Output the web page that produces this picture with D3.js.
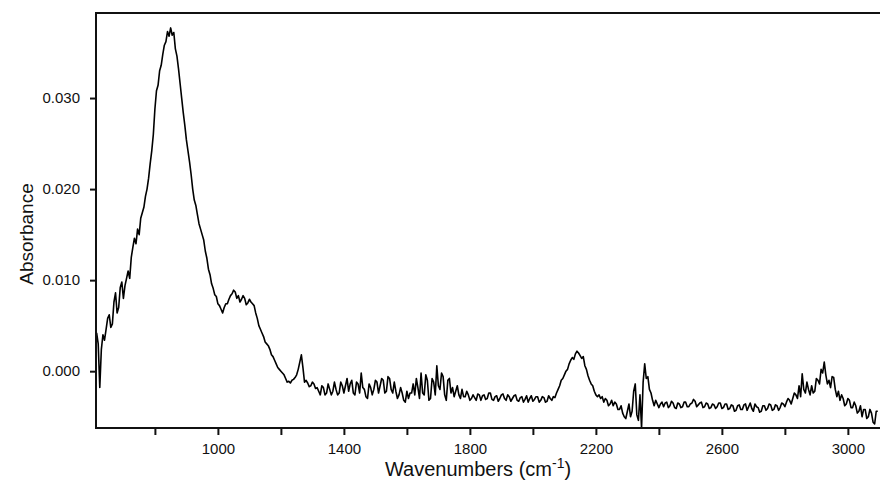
<!DOCTYPE html>
<html lang="en">
<head>
<meta charset="UTF-8">
<title>Absorbance spectrum</title>
<style>
    body { margin: 0; background: #fff; }
    svg { display: block; }
    text { font-family: Arial, "Liberation Sans", sans-serif; fill: #111; }
</style>
</head>
<body>
<svg width="880" height="482"></svg>

<script src="https://d3js.org/d3.v7.min.js"></script>
<script>

    // spectrum sampled every 5 cm-1, starting at 615 cm-1 (absorbance x 1000)
    const wnStart = 615
    const wnStep = 5
    const absorbanceMilli = [
        4.2, 3.0, -1.8, 2.4, 4.0, 3.4, 4.6, 5.8, 6.2, 4.8, 5.2, 7.6, 8.6, 6.4, 7.0, 9.2, 9.8, 8.0, 9.4, 10.2,                // 615-710
        11.0, 10.2, 12.5, 13.6, 14.6, 14.0, 15.6, 15.0, 16.8, 17.4, 18.0, 19.2, 20.0, 21.2, 22.8, 24.2, 26.0, 28.8, 30.8, 31.4, // 715-810
        33.0, 33.6, 34.8, 35.8, 36.2, 37.3, 36.8, 37.7, 36.9, 37.2, 35.4, 34.6, 33.2, 31.6, 30.0, 28.4, 27.0, 25.4, 24.2, 23.0, // 815-910
        21.6, 20.0, 18.8, 18.2, 17.2, 16.2, 15.6, 15.0, 14.4, 13.2, 12.4, 11.2, 10.6, 9.6, 9.1, 8.4, 8.2, 7.4, 7.2, 6.8,       // 915-1010
        6.4, 7.0, 7.4, 7.4, 7.9, 8.3, 8.5, 8.9, 8.7, 8.0, 8.3, 7.6, 7.9, 8.3, 8.0, 7.3, 7.5, 7.9, 7.6, 7.4,                  // 1015-1110
        7.2, 6.4, 5.8, 5.0, 4.6, 4.2, 3.8, 3.2, 3.0, 2.8, 2.4, 1.8, 1.6, 1.2, 0.8, 0.4, 0.2, 0.0, -0.2, -0.4,                // 1115-1210
        -0.8, -1.2, -1.1, -1.3, -1.0, -0.9, -0.7, -0.4, 0.2, 1.0, 1.8, 0.4, -1.2, -1.0, -1.3, -1.7, -1.6, -1.2, -1.4, -1.9,  // 1215-1310
        -1.8, -2.2, -2.6, -1.6, -1.8, -2.6, -2.4, -1.4, -2.0, -2.6, -2.2, -1.2, -2.0, -2.6, -2.4, -1.2, -1.6, -2.4, -1.6, -0.8, // 1315-1410
        -2.2, -1.4, -1.0, -2.4, -2.6, -1.2, -1.4, -2.4, -0.2, -1.8, -2.0, -2.8, -3.0, -1.4, -1.8, -2.6, -2.0, -1.0, -1.2, -2.4, // 1415-1510
        -1.6, -0.8, -1.0, -2.4, -2.2, -0.6, -0.8, -2.0, -2.4, -1.2, -2.2, -3.0, -2.6, -1.8, -2.4, -3.2, -3.4, -2.2, -3.0, -2.4, // 1515-1610
        -2.4, -1.4, -2.6, -0.8, -1.8, -3.0, -0.2, -2.4, -2.6, -0.4, -1.0, -3.2, -3.0, -0.8, -1.2, -2.6, 0.6, -1.6, -2.0, -0.2,  // 1615-1710
        -0.6, -2.6, -3.2, -1.0, -0.8, -2.4, -1.8, -2.8, -2.2, -1.6, -2.6, -3.0, -2.0, -2.8, -2.8, -2.2, -2.6, -3.2, -3.0, -2.6, // 1715-1810
        -2.9, -3.2, -2.5, -2.6, -3.2, -2.7, -2.6, -3.1, -3.0, -2.4, -2.4, -3.1, -3.2, -2.8, -2.7, -3.3, -3.0, -2.6, -2.5, -3.0, // 1815-1910
        -3.2, -2.6, -2.8, -3.3, -3.0, -2.7, -2.6, -3.2, -3.3, -2.9, -2.8, -3.4, -3.1, -2.7, -3.4, -3.0, -2.7, -3.3, -3.1, -2.8, // 1915-2010
        -2.8, -3.4, -3.2, -2.8, -2.9, -3.4, -3.3, -2.7, -3.0, -3.2, -2.8, -2.9, -2.4, -2.0, -1.6, -1.0, -0.8, -0.4, 0.0, 0.2,   // 2015-2110
        0.8, 1.2, 1.5, 1.3, 1.9, 2.2, 2.0, 1.7, 1.4, 1.6, 0.6, 0.2, -0.5, -1.0, -1.4, -1.6, -2.2, -2.6, -2.8, -2.6,           // 2115-2210
        -3.0, -2.8, -3.4, -3.0, -3.2, -3.8, -3.6, -3.2, -3.8, -3.4, -3.6, -4.2, -4.2, -3.8, -4.6, -5.0, -5.2, -4.4, -3.6, -5.0, // 2215-2310
        -4.4, -2.2, -1.4, -4.8, -5.4, -2.6, -6.2, -1.2, 0.8, -0.8, -0.6, -2.0, -2.4, -3.2, -3.8, -3.2, -3.6, -4.0, -3.6, -3.4,  // 2315-2410
        -3.9, -3.5, -3.4, -4.0, -3.8, -3.3, -3.5, -4.0, -4.1, -3.5, -3.6, -4.0, -3.9, -3.4, -3.4, -3.9, -3.9, -3.6, -3.5, -3.1, // 2415-2510
        -3.3, -3.9, -3.7, -3.5, -3.4, -4.0, -3.9, -3.5, -3.6, -4.1, -4.0, -3.6, -3.7, -4.1, -3.9, -3.5, -3.5, -4.1, -4.0, -3.6, // 2515-2610
        -3.6, -4.2, -4.1, -3.7, -3.8, -4.4, -4.3, -3.8, -3.7, -4.2, -4.2, -3.7, -3.6, -4.3, -3.9, -3.5, -4.1, -4.4, -3.6, -3.9, // 2615-2710
        -4.0, -4.5, -4.4, -3.8, -3.8, -4.3, -4.1, -3.6, -3.7, -4.3, -4.2, -3.7, -3.8, -4.3, -4.0, -3.5, -3.6, -3.9, -3.4, -3.0, // 2715-2810
        -3.2, -3.6, -3.0, -2.4, -2.6, -3.0, -1.6, -2.8, -0.3, -2.0, -2.4, -1.2, -2.0, -2.6, -1.6, -2.4, -2.2, -0.8, -1.0, -1.4, // 2815-2910
        0.2, -0.2, 1.0, -0.4, -1.4, -1.0, -1.8, -0.6, -0.7, -2.0, -2.8, -2.2, -3.2, -2.6, -3.0, -3.8, -3.6, -3.0, -3.2, -4.0,   // 2915-3010
        -4.0, -3.4, -3.8, -4.6, -4.4, -3.8, -5.0, -4.2, -4.2, -5.2, -5.0, -4.2, -4.6, -5.6, -5.8, -4.4, -4.4                  // 3015-3095
    ]

    const xTicks = [800, 1000, 1200, 1400, 1600, 1800, 2000, 2200, 2400, 2600, 2800, 3000]
    const xLabels = [1000, 1400, 1800, 2200, 2600, 3000]
    const yTicks = [0.000, 0.010, 0.020, 0.030]

    let spectrum = absorbanceMilli.map(function (v, i) {
        return {wn: wnStart + i * wnStep, a: v / 1000}
    })

    let svg = d3.select('svg')
    let margin = {top: 13, right: 0, bottom: 54, left: 96}
    let width = 880 - margin.left - margin.right
    let height = 482 - margin.top - margin.bottom

    let x = d3.scaleLinear().domain([613, 3102]).range([0, width])
    let y = d3.scaleLinear().domain([-0.00624, 0.03934]).range([height, 0])

    let g = svg.append('g')
        .attr('transform', 'translate(' + margin.left + ',' + margin.top + ')')

    // clip so the trace stays inside the frame
    g.append('clipPath').attr('id', 'plotClip')
        .append('rect').attr('width', width).attr('height', height)

    let line = d3.line()
        .x(function (d) { return x(d.wn) })
        .y(function (d) { return y(d.a) })

    g.append('path')
        .datum(spectrum)
        .attr('clip-path', 'url(#plotClip)')
        .attr('fill', 'none')
        .attr('stroke', '#000')
        .attr('stroke-width', 1.6)
        .attr('stroke-linejoin', 'round')
        .attr('d', line)

    // x axis
    let xAxis = g.append('g')
        .attr('transform', 'translate(0,' + height + ')')
        .call(d3.axisBottom(x)
            .tickValues(xTicks)
            .tickSize(7)
            .tickPadding(8)
            .tickFormat(function (d) { return xLabels.indexOf(d) >= 0 ? d : '' }))
    xAxis.select('.domain').remove()

    // y axis
    let yAxis = g.append('g')
        .call(d3.axisLeft(y)
            .tickValues(yTicks)
            .tickSize(6)
            .tickPadding(10)
            .tickFormat(d3.format('.3f')))
    yAxis.select('.domain').remove()

    svg.selectAll('.tick line').attr('stroke', '#111').attr('stroke-width', 2)
    svg.selectAll('.tick text').attr('font-size', 15).attr('fill', '#111')
        .attr('font-family', 'Arial, "Liberation Sans", sans-serif')

    // frame
    g.append('rect')
        .attr('x', 0).attr('y', 0)
        .attr('width', width + 2).attr('height', height)
        .attr('fill', 'none')
        .attr('stroke', '#111')
        .attr('stroke-width', 2)

    // axis titles
    let xTitle = svg.append('text')
        .attr('x', 478).attr('y', 476)
        .attr('text-anchor', 'middle')
        .attr('font-size', 20)
    xTitle.append('tspan').text('Wavenumbers (cm')
    xTitle.append('tspan').attr('font-size', 14).attr('dy', -8).text('-1')
    xTitle.append('tspan').attr('dy', 8).text(')')

    svg.append('text')
        .attr('transform', 'translate(33,234) rotate(-90)')
        .attr('text-anchor', 'middle')
        .attr('font-size', 19)
        .text('Absorbance')

</script>
</body>
</html>
